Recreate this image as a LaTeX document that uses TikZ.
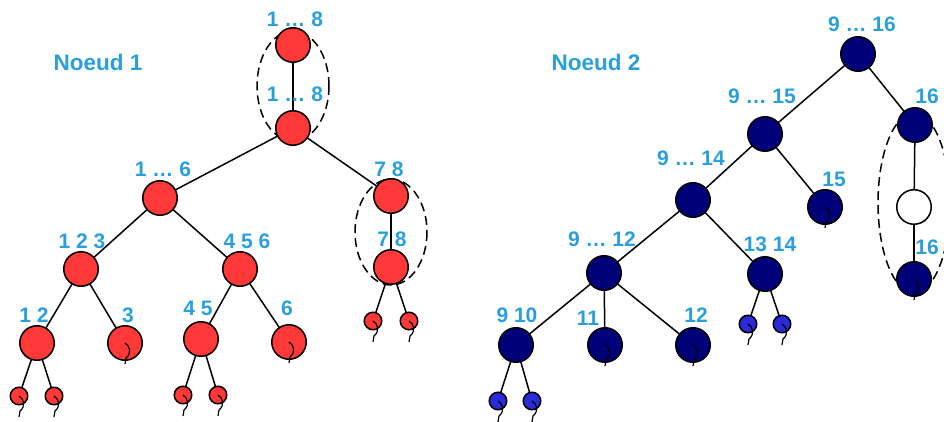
\documentclass[tikz,border=0pt]{standalone}
\usepackage{fontspec}
\setmainfont{Liberation Sans}
\definecolor{nodered}{RGB}{255,56,56}
\definecolor{nodenavy}{RGB}{0,0,120}
\definecolor{leafblue}{RGB}{42,42,214}
\definecolor{labelblue}{RGB}{41,160,221}

\begin{document}
\begin{tikzpicture}[
    x=1pt, y=-1pt,
    font=\bfseries\fontsize{21}{21}\selectfont,
    dot/.style={circle, draw, fill=#1, minimum size=34.5pt, inner sep=0pt},
    dot/.default=nodered,
    smalldot/.style={circle, draw, fill=#1, minimum size=17.5pt, inner sep=0pt},
    smalldot/.default=nodered,
    lbl/.style={labelblue, anchor=base, inner sep=0pt},
    cluster/.style={draw, dash pattern=on 9pt off 5pt},
    tail/.pic={\draw[line width=1.2pt] (0,0) .. controls (5,3) and (7,10) .. (1,15) -- (0,21);},
    line width=1.5pt
]
    \clip (0,0) rectangle (944,422);

    % ==========================================
    % NOEUD 1 (red tree)
    % ==========================================
    \coordinate (n18a) at (293, 45);
    \coordinate (n18b) at (293, 128);
    \coordinate (n16)  at (160, 198);
    \coordinate (n78a) at (391, 196);
    \coordinate (n78b) at (391, 267);
    \coordinate (n123) at (81, 269);
    \coordinate (n456) at (240, 269);
    \coordinate (n12)  at (37, 343);
    \coordinate (n3)   at (125, 343);
    \coordinate (n45)  at (201, 339);
    \coordinate (n6)   at (289, 342);
    \coordinate (n1)   at (19, 396);
    \coordinate (n2)   at (54, 396);
    \coordinate (n4)   at (183, 395);
    \coordinate (n5)   at (218, 395);
    \coordinate (n7)   at (373, 321);
    \coordinate (n8)   at (409, 321);

    % Dashed groups
    \draw[cluster] (293, 86) ellipse [x radius=36, y radius=55];
    \draw[cluster] (391, 232) ellipse [x radius=36, y radius=53];

    % Branches
    \draw (n18a) -- (n18b);
    \draw (n18b) -- (n16);
    \draw (n18b) -- (n78a);
    \draw (n78a) -- (n78b);
    \draw (n16) -- (n123);
    \draw (n16) -- (n456);
    \draw (n123) -- (n12);
    \draw (n123) -- (n3);
    \draw (n456) -- (n45);
    \draw (n456) -- (n6);
    \draw (n12) -- (n1);
    \draw (n12) -- (n2);
    \draw (n45) -- (n4);
    \draw (n45) -- (n5);
    \draw (n78b) -- (n7);
    \draw (n78b) -- (n8);

    % Nodes
    \foreach \n in {n18a, n18b, n16, n78a, n78b, n123, n456, n12, n3, n45, n6}
        \node[dot] (d\n) at (\n) {};
    \foreach \n in {n1, n2, n4, n5, n7, n8}
        \node[smalldot] (d\n) at (\n) {};

    % Tails on the leaves
    \foreach \n in {n3, n6, n1, n2, n4, n5, n7, n8}
        \pic at (\n) {tail};

    % Labels
    \node[lbl, font=\bfseries\fontsize{22.5}{22.5}\selectfont] (title1) at (98, 71) {Noeud 1};
    \node[lbl] (l18a) at (295, 27)  {1 … 8};
    \node[lbl] (l18b) at (295, 102) {1 … 8};
    \node[lbl] (l16)  at (163, 177) {1 … 6};
    \node[lbl] (l78a) at (389, 177) {7 8};
    \node[lbl] (l78b) at (392, 246) {7 8};
    \node[lbl] (l123) at (82, 248)  {1 2 3};
    \node[lbl] (l456) at (247, 248) {4 5 6};
    \node[lbl] (l12)  at (34, 322)  {1 2};
    \node[lbl] (l3)   at (128, 322) {3};
    \node[lbl] (l45)  at (198, 315) {4 5};
    \node[lbl] (l6)   at (287, 315) {6};

    % ==========================================
    % NOEUD 2 (navy tree)
    % ==========================================
    \coordinate (r916)  at (858, 54);
    \coordinate (r915)  at (765, 134);
    \coordinate (r16a)  at (915, 125);
    \coordinate (rw)    at (914, 207);
    \coordinate (r16b)  at (914, 279);
    \coordinate (r914)  at (693, 200);
    \coordinate (r15)   at (825, 207);
    \coordinate (r912)  at (604, 273);
    \coordinate (r1314) at (765, 274);
    \coordinate (r910)  at (516, 345);
    \coordinate (r11)   at (605, 345);
    \coordinate (r12)   at (693, 345);
    \coordinate (b13)   at (748, 324);
    \coordinate (b14)   at (782, 324);
    \coordinate (b9)    at (498, 401);
    \coordinate (b10)   at (532, 401);

    % Dashed group
    \draw[cluster] (914, 203) ellipse [x radius=36, y radius=90];

    % Branches
    \draw (r916) -- (r915);
    \draw (r916) -- (r16a);
    \draw (r16a) -- (rw);
    \draw (rw) -- (r16b);
    \draw (r915) -- (r914);
    \draw (r915) -- (r15);
    \draw (r914) -- (r912);
    \draw (r914) -- (r1314);
    \draw (r912) -- (r910);
    \draw (r912) -- (r11);
    \draw (r912) -- (r12);
    \draw (r1314) -- (b13);
    \draw (r1314) -- (b14);
    \draw (r910) -- (b9);
    \draw (r910) -- (b10);

    % Nodes
    \foreach \n in {r916, r915, r16a, r16b, r914, r15, r912, r1314, r910, r11, r12}
        \node[dot=nodenavy] (d\n) at (\n) {};
    \node[dot=white] (drw) at (rw) {};
    \foreach \n in {b13, b14, b9, b10}
        \node[smalldot=leafblue] (d\n) at (\n) {};

    % Tails on the leaves
    \foreach \n in {r15, r16b, r11, r12, b13, b14, b9, b10}
        \pic at (\n) {tail};

    % Labels
    \node[lbl, font=\bfseries\fontsize{22.5}{22.5}\selectfont] (title2) at (596, 71) {Noeud 2};
    \node[lbl] (l916)  at (862, 32)  {9 … 16};
    \node[lbl] (l915)  at (762, 104) {9 … 15};
    \node[lbl] (l16a)  at (927, 104) {16};
    \node[lbl] (l16b)  at (927, 254) {16};
    \node[lbl] (l914)  at (691, 165) {9 … 14};
    \node[lbl] (l15)   at (834, 186) {15};
    \node[lbl] (l912)  at (602, 246) {9 … 12};
    \node[lbl] (l1314) at (770, 251) {13 14};
    \node[lbl] (l910)  at (517, 322) {9 10};
    \node[lbl] (l11)   at (588, 325) {11};
    \node[lbl] (l12)   at (696, 322) {12};

\end{tikzpicture}
\end{document}
